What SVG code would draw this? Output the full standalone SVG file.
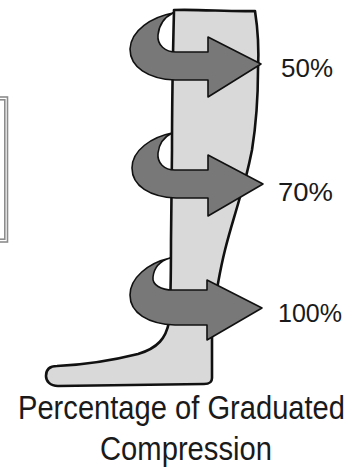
<svg xmlns="http://www.w3.org/2000/svg" width="352" height="467" viewBox="0 0 352 467">
  <style>
    .frame { fill: none; stroke: #8c8c8c; stroke-width: 1.6; }
    .leg { fill: #d9d9d9; stroke: #111; stroke-width: 2.6; stroke-linejoin: round; stroke-linecap: round; }
    .wrap { fill: #787878; stroke: #111; stroke-width: 1.6; stroke-linejoin: round; }
    .pct { font-family: "Liberation Sans", Arial, sans-serif; font-size: 26px; fill: #1a1a1a; }
    .cap { font-family: "Liberation Sans", Arial, sans-serif; font-size: 29.5px; fill: #1a1a1a; text-anchor: middle; }
  </style>

  <!-- partial frame at the left edge -->
  <g id="side-frame">
    <rect class="frame" x="-10" y="97" width="17.5" height="145"/>
    <rect class="frame" x="-10" y="99.8" width="14.8" height="139.4"/>
  </g>

  <!-- stocking outline -->
  <g id="stocking">
    <path class="leg" d="M174,10 C200,9 230,12 255,11
      C258,30 259,50 258,70 C258,95 256,125 252,150
      C248,170 244,185 240,197 C235,215 230,230 225,250
      C220,270 215,300 212,322 L212,378
      C212,383 209,384 204,384 L58,386
      C50,386 46,381 46,376 C46,369 50,366 57,366
      C80,365 110,361 138,354 C158,348 166,338 169,322
      C171,300 171,270 171,240 L172,150 C172,100 173,50 174,10 Z"/>
  </g>

  <!-- compression arrows wrapping the leg -->
  <g id="arrows">
    <path id="arrow-top" class="wrap" d="M173,13 C152,17 131,30 130,49
      C130,67 148,79 175,80 L208,80 L208,97 L261,64 L208,37 L208,52 L176,52
      C165,52 157,45 158,35 C159,25 165,17 173,13 Z"/>
    <path id="arrow-mid" class="wrap" d="M172,133 C152,137 132,150 132,168
      C132,186 150,197 176,198 L208,198 L208,216 L263,184 L208,155 L208,170 L175,170
      C164,170 157,163 158,153 C159,144 164,137 172,133 Z"/>
    <path id="arrow-low" class="wrap" d="M170,258 C148,263 130,278 130,295
      C130,313 148,324 175,325 L207,325 L207,340 L262,308 L207,280 L207,290 L173,290
      C161,290 152,285 153,277 C154,268 160,261 170,258 Z"/>
  </g>

  <!-- percentage labels -->
  <g id="labels">
    <text class="pct" x="281" y="77" textLength="52" lengthAdjust="spacingAndGlyphs">50%</text>
    <text class="pct" x="278" y="201" textLength="55" lengthAdjust="spacingAndGlyphs">70%</text>
    <text class="pct" x="278" y="322" textLength="64" lengthAdjust="spacingAndGlyphs">100%</text>
  </g>

  <!-- caption, set slightly tall and narrow -->
  <g id="caption">
    <text class="cap" transform="translate(181.5,419) scale(1,1.1)" x="0" y="0" textLength="327" lengthAdjust="spacingAndGlyphs">Percentage of Graduated</text>
    <text class="cap" transform="translate(186,460) scale(1,1.1)" x="0" y="0" textLength="172" lengthAdjust="spacingAndGlyphs">Compression</text>
  </g>
</svg>
